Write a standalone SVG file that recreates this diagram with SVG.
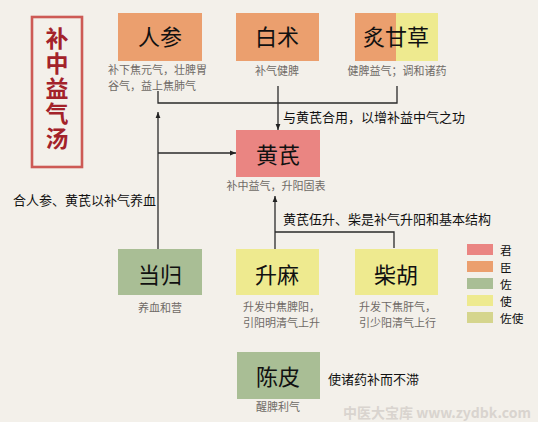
<svg xmlns="http://www.w3.org/2000/svg" width="538" height="422" viewBox="0 0 538 422">
<defs>
<marker id="ah" viewBox="0 0 10 10" refX="10" refY="5" markerWidth="6" markerHeight="6" markerUnits="userSpaceOnUse" orient="auto">
<path d="M0,1 L10,5 L0,9 z" fill="#222"/>
</marker>
<style>
text{font-family:"Noto Sans CJK SC","Noto Sans",sans-serif;}
.lbl{font-size:22px;fill:#111;text-anchor:middle;}
.sub{font-size:11px;fill:#6f6a66;}
.mid{text-anchor:middle;}
.note{font-size:13px;fill:#111;}
.leg{font-size:11.7px;fill:#111;}
.con{fill:none;stroke:#2a2a2a;stroke-width:1.3;}
.chen{fill:#eb9f6e;}
.zuo{fill:#a9be95;}
.shi{fill:#eeea8f;}
.jun{fill:#ea8582;}
</style>
</defs>
<rect width="538" height="422" fill="#f3f0ea"/>

<g id="title">
<rect x="32" y="17" width="50" height="150" fill="none" stroke="#cd5a55" stroke-width="2.6"/>
<text x="57" y="27" writing-mode="tb" font-size="23" letter-spacing="2" fill="#a3222a" font-weight="bold">补中益气汤</text>
</g>

<g id="connectors">
<polyline class="con" points="158,91 158,103 397,103 397,86"/>
<line class="con" x1="278" y1="86" x2="278" y2="130" marker-end="url(#ah)"/>
<line class="con" x1="158" y1="249" x2="158" y2="112" marker-end="url(#ah)"/>
<line class="con" x1="158" y1="153" x2="236" y2="153" marker-end="url(#ah)"/>
<line class="con" x1="275" y1="249" x2="275" y2="196" marker-end="url(#ah)"/>
<polyline class="con" points="275,232 394,232 394,248"/>
<text class="note" x="283" y="122">与黄芪合用，以增补益中气之功</text>
<text class="note" x="13" y="205">合人参、黄芪以补气养血</text>
<text class="note" x="283" y="224">黄芪伍升、柴是补气升阳和基本结构</text>
<text class="note" x="328" y="384">使诸药补而不滞</text>
</g>

<g id="renshen">
<rect class="chen" x="118" y="13" width="84" height="48"/>
<text class="lbl" x="160" y="45">人参</text>
<text class="sub" x="108" y="74">补下焦元气，壮脾胃</text>
<text class="sub" x="108" y="90">谷气，益上焦肺气</text>
</g>

<g id="baizhu">
<rect class="chen" x="236" y="13" width="83" height="48"/>
<text class="lbl" x="277" y="45">白术</text>
<text class="sub mid" x="277" y="75">补气健脾</text>
</g>

<g id="zhigancao">
<rect class="chen" x="355" y="13" width="41" height="48"/>
<rect class="shi" x="396" y="13" width="42" height="48"/>
<text class="lbl" x="396" y="45" font-size="21">炙甘草</text>
<text class="sub mid" x="397" y="75">健脾益气；调和诸药</text>
</g>

<g id="huangqi">
<rect class="jun" x="236" y="130" width="84" height="47"/>
<text class="lbl" x="278" y="163">黄芪</text>
<text class="sub mid" x="276" y="190">补中益气，升阳固表</text>
</g>

<g id="danggui">
<rect class="zuo" x="118" y="249" width="84" height="46"/>
<text class="lbl" x="160" y="283">当归</text>
<text class="sub mid" x="160" y="312">养血和营</text>
</g>

<g id="shengma">
<rect class="shi" x="236" y="249" width="83" height="46"/>
<text class="lbl" x="277" y="283">升麻</text>
<text class="sub" x="243" y="311">升发中焦脾阳，</text>
<text class="sub" x="243" y="327">引阳明清气上升</text>
</g>

<g id="chaihu">
<rect class="shi" x="355" y="249" width="83" height="46"/>
<text class="lbl" x="396" y="283">柴胡</text>
<text class="sub" x="359" y="311">升发下焦肝气，</text>
<text class="sub" x="359" y="327">引少阳清气上行</text>
</g>

<g id="chenpi">
<rect class="zuo" x="237" y="352" width="83" height="47"/>
<text class="lbl" x="278" y="385">陈皮</text>
<text class="sub mid" x="278" y="411">醒脾利气</text>
</g>

<g id="legend">
<rect x="467" y="244" width="26" height="11" fill="#ea8582"/>
<rect x="467" y="261" width="26" height="11" fill="#eb9f6e"/>
<rect x="467" y="278" width="26" height="11" fill="#a9be95"/>
<rect x="467" y="295" width="26" height="11" fill="#eeea8f"/>
<rect x="467" y="312" width="26" height="11" fill="#d5d58d"/>
<text class="leg"><tspan x="500" y="254.5">君</tspan><tspan x="500" y="271.5">臣</tspan><tspan x="500" y="288.5">佐</tspan><tspan x="500" y="305.5">使</tspan><tspan x="500" y="322.5">佐使</tspan></text>
</g>

<text x="343" y="418" font-size="14" font-weight="bold" fill="#d9d4cf">中医大宝库 www.zydbk.com</text>
</svg>
